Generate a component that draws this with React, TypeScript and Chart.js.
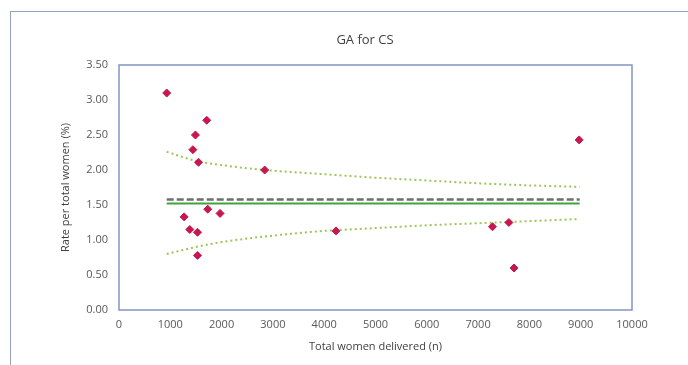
import React, { useEffect, useRef } from "react";
import { Chart, registerables } from "chart.js";

Chart.register(...registerables);

const chartTitle = "GA for CS";
const xAxisTitle = "Total women delivered (n)";
const yAxisTitle = "Rate per total women (%)";

// Hospitals: total women delivered (n) and rate (%)
const hospitalN = [930, 1710, 1490, 1440, 1550, 2840, 1730, 1970, 1270, 1380, 1530, 1530, 4230, 8970, 7280, 7600, 7700];
const hospitalRate = [3.10, 2.71, 2.50, 2.29, 2.11, 2.00, 1.44, 1.38, 1.33, 1.15, 1.11, 0.78, 1.13, 2.43, 1.19, 1.25, 0.60];

// Reference lines
const lineN = [930, 8980];
const meanRate = [1.52, 1.52];
const dashedRate = [1.58, 1.58];

// Funnel control limits
const limitN = [930, 1500, 2000, 2840, 4000, 5000, 6000, 7000, 8000, 8980];
const upperLimit = [2.26, 2.13, 2.07, 2.00, 1.94, 1.89, 1.85, 1.81, 1.78, 1.76];
const lowerLimit = [0.80, 0.90, 0.97, 1.05, 1.13, 1.17, 1.21, 1.24, 1.27, 1.30];

const xTicks = [0, 1000, 2000, 3000, 4000, 5000, 6000, 7000, 8000, 9000, 10000];
const yTicks = [0, 0.5, 1, 1.5, 2, 2.5, 3, 3.5];

const zip = (xs: number[], ys: number[]) => xs.map((x, i) => ({ x, y: ys[i] }));

const FONT = "'Open Sans', 'Liberation Sans', sans-serif";

export default function App() {
  const ref = useRef<HTMLCanvasElement | null>(null);

  useEffect(() => {
    if (!ref.current) return;
    const frame = {
      id: "frameAndTitle",
      afterDraw(chart: any) {
        const { ctx, chartArea } = chart;
        ctx.save();
        ctx.strokeStyle = "#8194C4";
        ctx.lineWidth = 1.5;
        ctx.strokeRect(chartArea.left, chartArea.top, chartArea.right - chartArea.left, chartArea.bottom - chartArea.top);
        ctx.fillStyle = "#404040";
        ctx.font = "13px " + FONT;
        ctx.textAlign = "center";
        ctx.textBaseline = "middle";
        ctx.fillText(chartTitle, 365, 40);
        ctx.restore();
      },
    };
    const chart = new Chart(ref.current, {
      type: "scatter",
      data: {
        datasets: [
          {
            label: "Hospitals",
            data: zip(hospitalN, hospitalRate),
            backgroundColor: "#C8174F",
            borderColor: "#C8174F",
            pointStyle: "rectRot",
            pointRadius: 4,
            showLine: false,
            order: 0,
          },
          {
            label: "Dashed",
            data: zip(lineN, dashedRate),
            borderColor: "#6E6E6E",
            borderWidth: 2.5,
            borderDash: [7, 3],
            showLine: true,
            pointRadius: 0,
            order: 2,
          },
          {
            label: "Mean",
            data: zip(lineN, meanRate),
            borderColor: "#3FA33F",
            borderWidth: 2,
            showLine: true,
            pointRadius: 0,
            order: 1,
          },
          {
            label: "Upper",
            data: zip(limitN, upperLimit),
            borderColor: "#9CC55A",
            borderWidth: 2,
            borderDash: [2, 3],
            showLine: true,
            tension: 0.4,
            cubicInterpolationMode: "monotone",
            pointRadius: 0,
            order: 3,
          },
          {
            label: "Lower",
            data: zip(limitN, lowerLimit),
            borderColor: "#9CC55A",
            borderWidth: 2,
            borderDash: [2, 3],
            showLine: true,
            tension: 0.4,
            cubicInterpolationMode: "monotone",
            pointRadius: 0,
            order: 3,
          },
        ],
      } as any,
      options: {
        animation: false,
        responsive: false,
        layout: { padding: { left: 55, right: 56, top: 65, bottom: 8 } },
        plugins: { legend: { display: false }, tooltip: { enabled: false }, title: { display: false } },
        scales: {
          x: {
            type: "linear",
            min: 0,
            max: 10000,
            afterFit: (s: any) => { s.height = 47; },
            afterBuildTicks: (s: any) => { s.ticks = xTicks.map((v) => ({ value: v })); },
            grid: { display: false, drawTicks: false },
            border: { display: false },
            ticks: { padding: 8, color: "#595959", font: { family: FONT, size: 11 }, callback: (v: any) => String(v) },
            title: { display: true, text: xAxisTitle, color: "#404040", font: { family: FONT, size: 11 }, padding: 4 },
          },
          y: {
            type: "linear",
            min: 0,
            max: 3.5,
            afterFit: (s: any) => { s.width = 64; },
            afterBuildTicks: (s: any) => { s.ticks = yTicks.map((v) => ({ value: v })); },
            grid: { display: false, drawTicks: false },
            border: { display: false },
            ticks: { padding: 11, color: "#595959", font: { family: FONT, size: 11 }, callback: (v: any) => Number(v).toFixed(2) },
            title: { display: true, text: yAxisTitle, color: "#404040", font: { family: FONT, size: 11 }, padding: 4 },
          },
        },
      } as any,
      plugins: [frame],
    });
    return () => chart.destroy();
  }, []);

  return (
    <div>
      <div
        style={{
          position: "fixed",
          left: 10,
          top: 11,
          width: 900,
          height: 600,
          borderLeft: "1.5px solid #95A5BE",
          borderTop: "1.5px solid #95A5BE",
          background: "#fff",
        }}
      />
      <canvas ref={ref} width={688} height={365} style={{ position: "fixed", left: 0, top: 0, width: 688, height: 365 }} />
    </div>
  );
}
